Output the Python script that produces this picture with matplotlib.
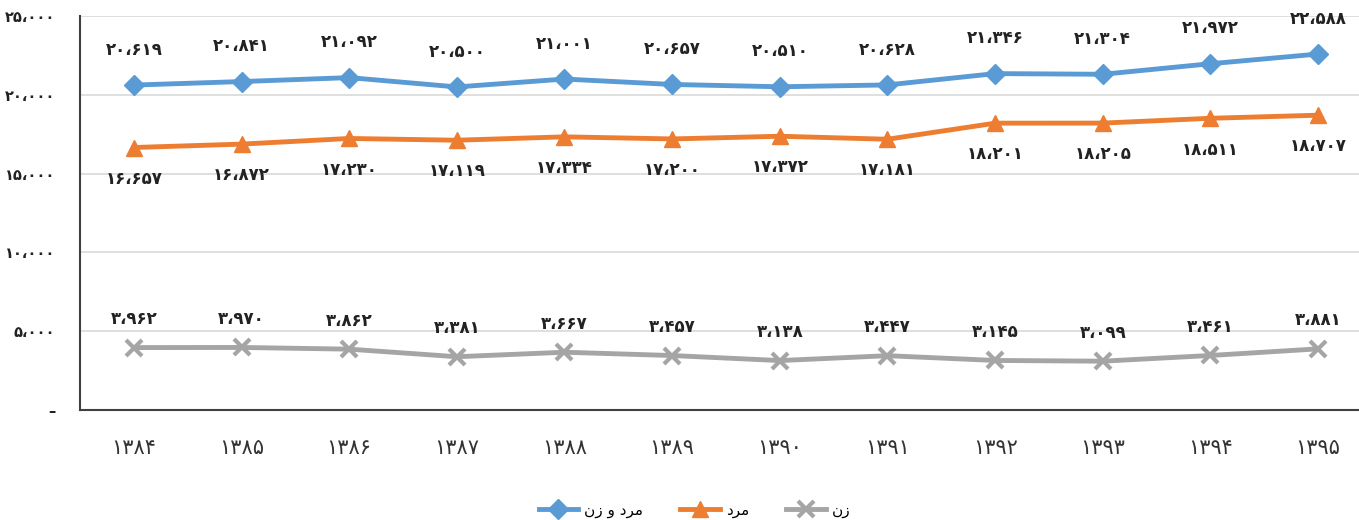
import matplotlib
matplotlib.use("Agg")
import matplotlib.pyplot as plt
import numpy as np

# years 1384..1395 (Persian digits)
years = ["۱۳۸۴", "۱۳۸۵", "۱۳۸۶", "۱۳۸۷", "۱۳۸۸", "۱۳۸۹",
         "۱۳۹۰", "۱۳۹۱", "۱۳۹۲", "۱۳۹۳", "۱۳۹۴", "۱۳۹۵"]
total = [20619, 20841, 21092, 20500, 21001, 20657, 20510, 20628, 21346, 21304, 21972, 22588]
men = [16657, 16872, 17230, 17119, 17334, 17200, 17372, 17181, 18201, 18205, 18511, 18707]
women = [3962, 3970, 3862, 3381, 3667, 3457, 3138, 3447, 3145, 3099, 3461, 3881]
yticks = [0, 5000, 10000, 15000, 20000, 25000]

# matplotlib has no arabic shaping, so the names are written in
# presentation forms, visual order: "مرد و زن", "مرد", "زن"
name_total = "\uFEE5\uFEAF \uFEED \uFEA9\uFEAE\uFEE3"
name_men = "\uFEA9\uFEAE\uFEE3"
name_women = "\uFEE5\uFEAF"

fa_digits = str.maketrans("0123456789,", "۰۱۲۳۴۵۶۷۸۹،")
def fa(n):
    return "{:,}".format(n).translate(fa_digits)

plt.rcParams['font.family'] = ['DejaVu Sans']

fig = plt.figure(figsize=(13.59, 5.2), dpi=100)
ax = fig.add_axes([0.0589, 0.2115, 0.9411, 0.7577])

x = np.arange(len(years))
blue, orange, gray = "#5B9BD5", "#ED7D31", "#A5A5A5"

ax.plot(x, total, color=blue, lw=3.5, marker="D", ms=10, label=name_total, zorder=3)
ax.plot(x, men, color=orange, lw=3.5, marker="^", ms=11, label=name_men, zorder=3)
ax.plot(x, women, color=gray, lw=3.5, marker="x", ms=11, mew=3, label=name_women, zorder=3)

lab = dict(ha="center", fontsize=12, fontweight="bold", color="#222222",
           textcoords="offset points")
for xi, v in zip(x, total):
    ax.annotate(fa(v), (xi, v), xytext=(0, 19), va="bottom", **lab)
for xi, v in zip(x, men):
    ax.annotate(fa(v), (xi, v), xytext=(0, -16), va="top", **lab)
for xi, v in zip(x, women):
    ax.annotate(fa(v), (xi, v), xytext=(0, 14), va="bottom", **lab)

ax.set_xlim(-0.5, 11.38)
ax.set_ylim(0, 25000)
ax.set_xticks(x)
ax.set_xticklabels(years, fontsize=15, color="#333333")
ax.set_yticks(yticks)
ax.set_yticklabels(["–"] + [fa(t) for t in yticks[1:]], fontsize=10.5,
                   fontweight="bold", color="#222222")
ax.tick_params(axis="x", length=0, pad=20)
ax.tick_params(axis="y", length=0, pad=18)

ax.grid(axis="y", color="#D9D9D9", lw=1.2)
ax.set_axisbelow(True)
for s in ["top", "right"]:
    ax.spines[s].set_visible(False)
ax.spines["left"].set_color("#404040")
ax.spines["bottom"].set_color("#404040")
ax.spines["left"].set_linewidth(1.5)
ax.spines["bottom"].set_linewidth(1.5)

fig.legend(loc="lower center", bbox_to_anchor=(0.511, -0.022), ncol=3, frameon=False,
           fontsize=11, handlelength=2.6, handletextpad=0.4, columnspacing=2.4)

fig.savefig("out.png", dpi=100)
